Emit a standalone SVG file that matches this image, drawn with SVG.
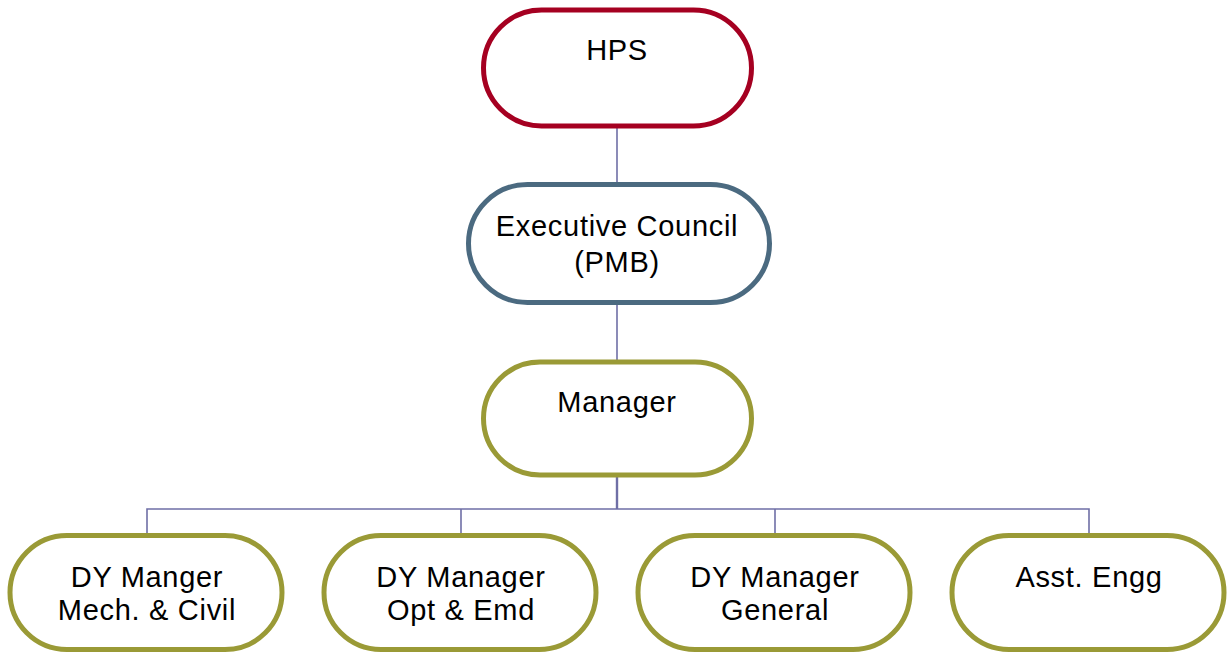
<svg xmlns="http://www.w3.org/2000/svg" width="1228" height="654" viewBox="0 0 1228 654">
<style>
.n{fill:#fff;stroke-width:5}
.red{stroke:#a50021}
.blue{stroke:#4b6a80}
.olive{stroke:#9a9a36}
.t{font-family:"Liberation Sans",Arial,sans-serif;font-size:29px;letter-spacing:0.7px;fill:#000;text-anchor:middle}
.c{stroke:#6f6fa6;stroke-width:1.6;fill:none}
</style>
<rect width="1228" height="654" fill="#fff"/>
<g id="connectors">
<line class="c" x1="617" y1="126" x2="617" y2="184"/>
<line class="c" x1="617" y1="303" x2="617" y2="362"/>
<line class="c" x1="617" y1="476" x2="617" y2="509" style="stroke-width:2.4"/>
<polyline class="c" points="147,533 147,509 1089,509 1089,533"/>
<line class="c" x1="461" y1="509" x2="461" y2="533"/>
<line class="c" x1="775" y1="509" x2="775" y2="533"/>
</g>
<g id="hps">
<rect class="n red" x="483.5" y="10" width="268" height="116" rx="58"/>
<text class="t" x="617" y="60">HPS</text>
</g>
<g id="exec">
<rect class="n blue" x="468.5" y="184.5" width="301" height="118" rx="59"/>
<text class="t" x="617" y="236">Executive Council</text>
<text class="t" x="617" y="272">(PMB)</text>
</g>
<g id="manager">
<rect class="n olive" x="483.5" y="362" width="268" height="113" rx="56.5"/>
<text class="t" x="617" y="412">Manager</text>
</g>
<g id="dy1">
<rect class="n olive" x="10" y="535.5" width="272" height="114" rx="57"/>
<text class="t" x="147" y="587">DY Manger</text>
<text class="t" x="147" y="620">Mech. &amp; Civil</text>
</g>
<g id="dy2">
<rect class="n olive" x="324" y="535.5" width="272" height="114" rx="57"/>
<text class="t" x="461" y="587">DY Manager</text>
<text class="t" x="461" y="620">Opt &amp; Emd</text>
</g>
<g id="dy3">
<rect class="n olive" x="638" y="535.5" width="272" height="114" rx="57"/>
<text class="t" x="775" y="587">DY Manager</text>
<text class="t" x="775" y="620">General</text>
</g>
<g id="asst">
<rect class="n olive" x="952" y="535.5" width="272" height="114" rx="57"/>
<text class="t" x="1089" y="587">Asst. Engg</text>
</g>
</svg>
